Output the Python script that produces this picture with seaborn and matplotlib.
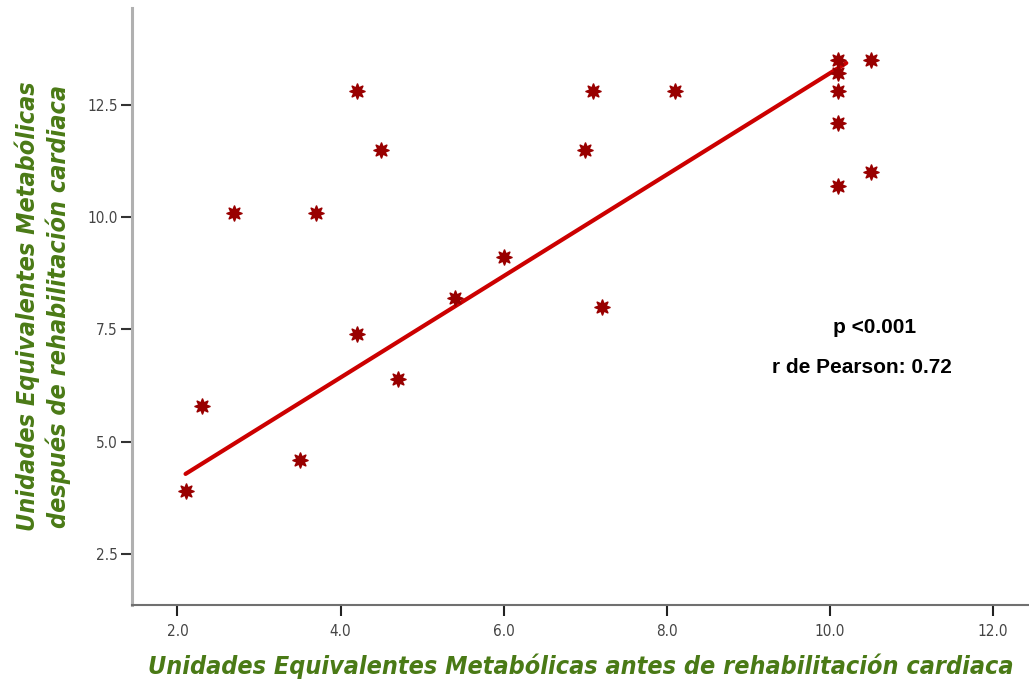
import numpy as np
import pandas as pd
import matplotlib
matplotlib.use("Agg")
import matplotlib.pyplot as plt
from matplotlib import font_manager as fm
import seaborn as sns

# METs antes / despues de rehabilitacion cardiaca
met_antes = [2.1, 2.3, 2.7, 3.5, 3.7, 4.2, 4.2, 4.5, 4.7, 5.4, 6.0,
             7.0, 7.1, 7.2, 8.1, 10.1, 10.1, 10.1, 10.1, 10.1, 10.5, 10.5]
met_despues = [3.9, 5.8, 10.1, 4.6, 10.1, 12.8, 7.4, 11.5, 6.4, 8.2, 9.1,
               11.5, 12.8, 8.0, 12.8, 13.5, 13.2, 12.8, 12.1, 10.7, 13.5, 11.0]

# recta de ajuste
fit_x = [2.1, 10.2]
fit_y = [4.28, 13.43]

x_ticks = [2.0, 4.0, 6.0, 8.0, 10.0, 12.0]
y_ticks = [2.5, 5.0, 7.5, 10.0, 12.5]

df = pd.DataFrame({"antes": met_antes, "despues": met_despues})

sns.set_style("white")
plt.rcParams["font.family"] = ["Liberation Sans", "DejaVu Sans"]

# fuente estrecha si existe
fp = fm.FontProperties(family="DejaVu Sans", stretch="condensed",
                       weight="bold", style="italic")
if "Condensed" in fm.findfont(fp):
    lab_font = dict(family="DejaVu Sans", fontstretch="condensed", fontsize=18)
    tick_fp = fm.FontProperties(family="DejaVu Sans", stretch="condensed", size=11)
else:
    lab_font = dict(family="Liberation Sans", fontsize=16)
    tick_fp = fm.FontProperties(family="Liberation Sans", size=10)

fig = plt.figure(figsize=(10.29, 6.86), dpi=100)
ax = fig.add_axes([0.128, 0.118, 0.872, 0.870])

sns.scatterplot(data=df, x="antes", y="despues", ax=ax,
                marker=(8, 1, 0), s=115, color="#990000",
                edgecolor="#990000", linewidth=1.2, zorder=3)
sns.lineplot(x=fit_x, y=fit_y, ax=ax, color="#cc0000", linewidth=3, zorder=2)

ax.set_xlim(1.44, 12.44)
ax.set_ylim(1.36, 14.65)
ax.set_xticks(x_ticks)
ax.set_xticklabels([f"{v:.1f}" for v in x_ticks], fontproperties=tick_fp)
ax.set_yticks(y_ticks)
ax.set_yticklabels([f"{v:.1f}" for v in y_ticks], fontproperties=tick_fp)

ax.spines["top"].set_visible(False)
ax.spines["right"].set_visible(False)
ax.spines["left"].set_color("#b0b0b0")
ax.spines["left"].set_linewidth(2.2)
ax.spines["bottom"].set_color("#707070")
ax.spines["bottom"].set_linewidth(1.5)

ax.tick_params(axis="x", direction="out", length=8, width=1.5, color="#222222",
               labelcolor="#444444", pad=6, bottom=True)
ax.tick_params(axis="y", direction="out", length=8, width=1.5, color="#333333",
               labelcolor="#444444", pad=2, left=True)

green = "#4a7a16"
ax.set_xlabel("Unidades Equivalentes Metabólicas antes de rehabilitación cardiaca",
              fontweight="bold", fontstyle="italic", color=green,
              labelpad=10, **lab_font)
ax.set_ylabel("Unidades Equivalentes Metabólicas\ndespués de rehabilitación cardiaca",
              fontweight="bold", fontstyle="italic", color=green,
              labelpad=12, linespacing=1.25, **lab_font)

ax.text(10.55, 7.53, "p <0.001", ha="center", va="center",
        fontsize=15, fontweight="bold", color="black")
ax.text(10.39, 6.66, "r de Pearson: 0.72", ha="center", va="center",
        fontsize=15, fontweight="bold", color="black")

fig.savefig("out.png", dpi=100)
